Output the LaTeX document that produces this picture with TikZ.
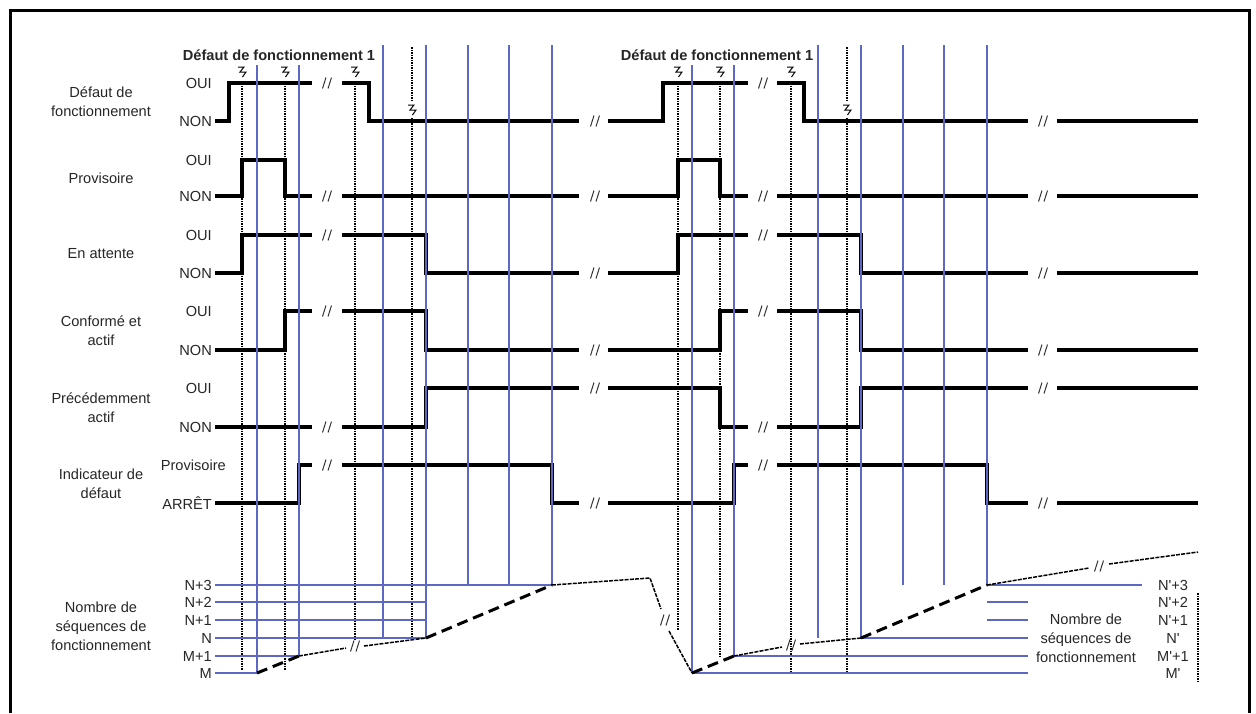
\documentclass[tikz,border=0pt]{standalone}
\usepackage{fontspec}
\setmainfont{Liberation Sans}
\usepackage{tikz}
\usetikzlibrary{arrows}

\definecolor{gridblue}{RGB}{92,104,196}

% break mark "//"
\newcommand{\brk}[2]{\draw [brkline] (#1-4.5,#2+5.5) -- (#1-1,#2-5.5) (#1+1,#2+5.5) -- (#1+4.5,#2-5.5);}
% fault mark
\newcommand{\flt}[2]{\draw [fltline] (#1-4,#2-5) -- (#1+2,#2-5) -- (#1-2,#2) -- (#1+4,#2) -- (#1+0.5,#2+5);}

\begin{document}
\begin{tikzpicture}[x=1pt,y=-1pt,
  every node/.style={font=\fontsize{14.6pt}{19pt}\selectfont,inner sep=1pt,text=black!85},
  sig/.style={line width=3.2pt},
  grid/.style={draw=gridblue,line width=1.9pt},
  fltdot/.style={line width=1.5pt,dash pattern=on 1.5pt off 1pt},
  fltline/.style={line width=1pt},
  brkline/.style={line width=1pt,black!80},
  stepthick/.style={line width=3pt,dash pattern=on 11pt off 6pt},
  stepthin/.style={line width=1.5pt,dash pattern=on 4pt off 1.2pt},
  rowlbl/.style={align=center},
  lvl/.style={anchor=east}]
  \useasboundingbox (0,0) rectangle (1256,713);
  \draw [line width=3pt] (10,713) -- (10,10) -- (1249,10) -- (1249,713);

  % titles
  \node [font=\fontsize{14.6pt}{16pt}\selectfont\bfseries] (titre1) at (279,55) {Défaut de fonctionnement 1};
  \node [font=\fontsize{14.6pt}{16pt}\selectfont\bfseries] (titre2) at (717,55) {Défaut de fonctionnement 1};

  % row labels
  \node [rowlbl] (defaut) at (101,102) {Défaut de\\fonctionnement};
  \node [rowlbl] (provis) at (101,178) {Provisoire};
  \node [rowlbl] (attente) at (101,254) {En attente};
  \node [rowlbl] (conforme) at (101,331) {Conformé et\\actif};
  \node [rowlbl] (precedent) at (101,408) {Précédemment\\actif};
  \node [rowlbl] (indic) at (101,484) {Indicateur de\\défaut};
  \node [rowlbl] (nombre) at (101,626) {Nombre de\\séquences de\\fonctionnement};
  \node [rowlbl] (nombreb) at (1086,638) {Nombre de\\séquences de\\fonctionnement};

  % levels
  \node [lvl] (oui1) at (213,83) {OUI};
  \node [lvl] (non1) at (213,121) {NON};
  \node [lvl] (oui2) at (213,160) {OUI};
  \node [lvl] (non2) at (213,196) {NON};
  \node [lvl] (oui3) at (213,235) {OUI};
  \node [lvl] (non3) at (213,273) {NON};
  \node [lvl] (oui4) at (213,311) {OUI};
  \node [lvl] (non4) at (213,350) {NON};
  \node [lvl] (oui5) at (213,388) {OUI};
  \node [lvl] (non5) at (213,427) {NON};
  \node [lvl] (prov6) at (227,465) {Provisoire};
  \node [lvl] (arret6) at (213,503) {ARRÊT};

  \node [lvl] (nA) at (213,585) {N+3};
  \node [lvl] (nB) at (213,602) {N+2};
  \node [lvl] (nC) at (213,620) {N+1};
  \node [lvl] (nD) at (213,638) {N};
  \node [lvl] (nE) at (213,656) {M+1};
  \node [lvl] (nF) at (213,673) {M};
  \node (pA) at (1173,585) {N\textquotesingle+3};
  \node (pB) at (1173,602) {N\textquotesingle+2};
  \node (pC) at (1173,620) {N\textquotesingle+1};
  \node (pD) at (1173,638) {N\textquotesingle};
  \node (pE) at (1173,656) {M\textquotesingle+1};
  \node (pF) at (1173,673) {M\textquotesingle};

  % signals
  \draw [sig] (215,121) -- (229,121) -- (229,83) -- (312,83);
  \draw [sig] (342,83) -- (369,83) -- (369,121) -- (579,121);
  \draw [sig] (608,121) -- (663,121) -- (663,83) -- (748,83);
  \draw [sig] (777,83) -- (804,83) -- (804,121) -- (1028,121);
  \draw [sig] (1057,121) -- (1198,121);

  \draw [sig] (215,196) -- (242,196) -- (242,160) -- (285,160) -- (285,196) -- (312,196);
  \draw [sig] (342,196) -- (579,196);
  \draw [sig] (608,196) -- (678,196) -- (678,160) -- (720,160) -- (720,196) -- (748,196);
  \draw [sig] (777,196) -- (1028,196);
  \draw [sig] (1057,196) -- (1198,196);

  \draw [sig] (215,273) -- (242,273) -- (242,235) -- (312,235);
  \draw [sig] (342,235) -- (426,235) -- (426,273) -- (579,273);
  \draw [sig] (608,273) -- (678,273) -- (678,235) -- (748,235);
  \draw [sig] (777,235) -- (861,235) -- (861,273) -- (1028,273);
  \draw [sig] (1057,273) -- (1198,273);

  \draw [sig] (215,350) -- (285,350) -- (285,311) -- (312,311);
  \draw [sig] (342,311) -- (426,311) -- (426,350) -- (579,350);
  \draw [sig] (608,350) -- (720,350) -- (720,311) -- (748,311);
  \draw [sig] (777,311) -- (861,311) -- (861,350) -- (1028,350);
  \draw [sig] (1057,350) -- (1198,350);

  \draw [sig] (215,427) -- (312,427);
  \draw [sig] (342,427) -- (426,427) -- (426,388) -- (579,388);
  \draw [sig] (608,388) -- (720,388) -- (720,427) -- (748,427);
  \draw [sig] (777,427) -- (861,427) -- (861,388) -- (1028,388);
  \draw [sig] (1057,388) -- (1198,388);

  \draw [sig] (215,503) -- (299,503) -- (299,465) -- (312,465);
  \draw [sig] (342,465) -- (552,465) -- (552,503) -- (579,503);
  \draw [sig] (608,503) -- (734,503) -- (734,465) -- (748,465);
  \draw [sig] (777,465) -- (987,465) -- (987,503) -- (1028,503);
  \draw [sig] (1057,503) -- (1198,503);

  \foreach \a/\b/\c/\d in {83/121/83/121, 196/196/196/196, 235/273/235/273,
    311/350/311/350, 427/388/427/388, 465/503/465/503}{
    \brk{327}{\a} \brk{595}{\b} \brk{763}{\c} \brk{1043}{\d}
  }

  % fault lines
  \foreach \x/\b in {242/670, 285/670, 355/640, 678/630, 720/657, 791/672}{
    \draw [fltdot] (\x,83) -- (\x,\b);
    \flt{\x}{72}
  }
  \draw [fltdot] (412,47) -- (412,102) (412,118) -- (412,637);
  \draw [fltdot] (847,47) -- (847,102) (847,118) -- (847,672);
  \flt{412}{110}
  \flt{847}{110}
  \draw [fltdot] (1198,593) -- (1198,682);

  % sequence grid
  \foreach \x/\t/\b in {257/65/673, 299/65/656, 383/45/638, 426/45/638, 468/45/585,
    509/45/585, 552/45/585, 692/65/673, 734/65/656, 818/45/638, 861/45/638,
    903/45/585, 944/45/585, 987/45/585}
    \draw [grid] (\x,\t) -- (\x,\b);
  \draw [grid] (215,585) -- (552,585);
  \draw [grid] (215,602) -- (426,602);
  \draw [grid] (215,620) -- (426,620);
  \draw [grid] (215,638) -- (426,638);
  \draw [grid] (215,656) -- (299,656);
  \draw [grid] (215,673) -- (257,673);
  \draw [grid] (987,585) -- (1142,585);
  \draw [grid] (987,602) -- (1028,602);
  \draw [grid] (987,620) -- (1028,620);
  \draw [grid] (861,638) -- (1028,638);
  \draw [grid] (734,656) -- (1028,656);
  \draw [grid] (692,673) -- (1028,673);

  % sequence count
  \draw [stepthick] (257,673) -- (299,656);
  \draw [stepthin] (299,656) -- (346,648);
  \draw [stepthin] (364,646) -- (426,638);
  \draw [stepthick] (426,638) -- (552,585);
  \draw [stepthin] (552,585) -- (650,578) -- (661,609);
  \draw [stepthin] (669,631) -- (692,673);
  \brk{355}{646}
  \brk{665}{620}
  \draw [stepthick] (692,673) -- (734,656);
  \draw [stepthin] (734,656) -- (782,647);
  \draw [stepthin] (800,644) -- (861,638);
  \draw [stepthick] (861,638) -- (987,585);
  \draw [stepthin] (987,585) -- (1089,568);
  \draw [stepthin] (1109,564) -- (1198,552);
  \brk{791}{645}
  \brk{1099}{566}
\end{tikzpicture}
\end{document}
